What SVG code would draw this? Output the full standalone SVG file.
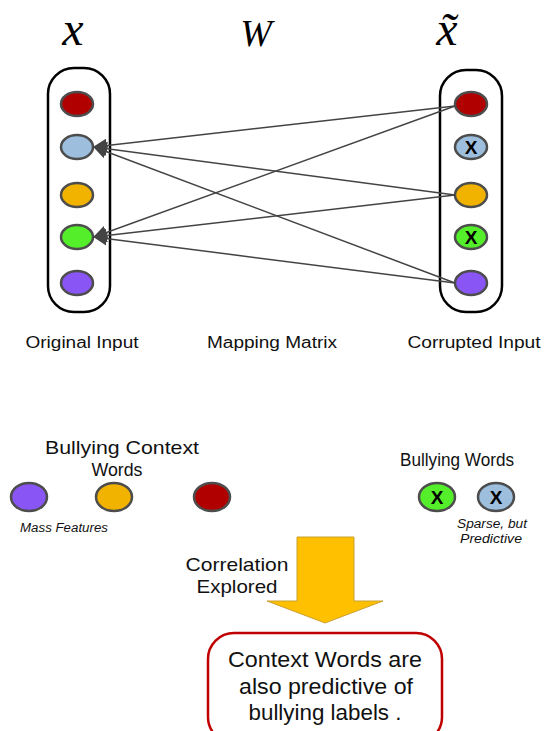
<svg xmlns="http://www.w3.org/2000/svg" width="553" height="731" viewBox="0 0 553 731">
<style>
.cap{fill:#fff;stroke:#000;stroke-width:2.5}
.n{stroke:#4d4d4d;stroke-width:2.5}
.red{fill:#b00000}.blue{fill:#9dbfdd}.org{fill:#f2b200}.grn{fill:#55ee2a}.pur{fill:#8a55f5}
.lbl{font-family:"Liberation Sans",Arial,sans-serif;font-size:16px;fill:#111;text-anchor:middle}
.big{font-family:"Liberation Sans",Arial,sans-serif;font-size:19px;fill:#111;text-anchor:middle}
.box{font-family:"Liberation Sans",Arial,sans-serif;font-size:22px;fill:#111;text-anchor:middle}
.it{font-family:"Liberation Sans",Arial,sans-serif;font-size:12.5px;font-style:italic;fill:#111;text-anchor:middle}
.math{font-family:"Liberation Serif","Times New Roman",serif;font-size:48px;font-style:italic;fill:#000;text-anchor:middle}
.x{font-family:"Liberation Sans",Arial,sans-serif;font-size:19px;font-weight:bold;fill:#000;text-anchor:middle}
.edge{stroke:#444;stroke-width:1.5;fill:none}
</style>
<defs>
<marker id="ah" viewBox="0 0 14 14" refX="13" refY="7" markerWidth="14" markerHeight="14" markerUnits="userSpaceOnUse" orient="auto">
<path d="M0,0 L14,7 L0,14 z" fill="#444"/>
</marker>
</defs>
<g id="titles">
<text class="math" x="73" y="45">x</text>
<text class="math" x="256" y="46" style="font-size:38px">W</text>
<text class="math" x="447" y="45">x̃</text>
</g>
<g id="original-input">
<rect class="cap" x="48" y="68" width="62" height="244" rx="26"/>
<ellipse class="n red" cx="77" cy="104" rx="16" ry="12"/>
<ellipse class="n blue" cx="77" cy="147" rx="16" ry="12"/>
<ellipse class="n org" cx="77" cy="195" rx="16" ry="12"/>
<ellipse class="n grn" cx="77" cy="237" rx="16" ry="12"/>
<ellipse class="n pur" cx="77" cy="283" rx="16" ry="12"/>
<text class="lbl" x="82" y="348" textLength="113" lengthAdjust="spacingAndGlyphs">Original Input</text>
</g>
<g id="corrupted-input">
<rect class="cap" x="440" y="70" width="62" height="242" rx="26"/>
<ellipse class="n red" cx="471" cy="104" rx="16" ry="12"/>
<ellipse class="n blue" cx="471" cy="147" rx="16" ry="12"/>
<text class="x" x="471" y="154">X</text>
<ellipse class="n org" cx="471" cy="195" rx="16" ry="12"/>
<ellipse class="n grn" cx="471" cy="237" rx="16" ry="12"/>
<text class="x" x="471" y="244">X</text>
<ellipse class="n pur" cx="471" cy="283" rx="16" ry="12"/>
<text class="lbl" x="474" y="348" textLength="133" lengthAdjust="spacingAndGlyphs">Corrupted Input</text>
</g>
<g id="mapping-matrix">
<text class="lbl" x="272" y="348" textLength="130" lengthAdjust="spacingAndGlyphs">Mapping Matrix</text>
</g>
<g id="connectors">
<line class="edge" x1="455" y1="106" x2="94" y2="147" marker-end="url(#ah)"/>
<line class="edge" x1="455" y1="195" x2="94" y2="147" marker-end="url(#ah)"/>
<line class="edge" x1="455" y1="283" x2="94" y2="147" marker-end="url(#ah)"/>
<line class="edge" x1="455" y1="106" x2="94" y2="237" marker-end="url(#ah)"/>
<line class="edge" x1="455" y1="195" x2="94" y2="237" marker-end="url(#ah)"/>
<line class="edge" x1="455" y1="283" x2="94" y2="237" marker-end="url(#ah)"/>
</g>
<g id="context-words">
<text class="big" x="122" y="454" textLength="154" lengthAdjust="spacingAndGlyphs">Bullying Context</text>
<text class="big" x="117" y="476" textLength="51" lengthAdjust="spacingAndGlyphs">Words</text>
<ellipse class="n pur" cx="29" cy="497" rx="18" ry="14"/>
<ellipse class="n org" cx="114" cy="497" rx="18" ry="14"/>
<ellipse class="n red" cx="212" cy="497" rx="18" ry="14"/>
<text class="it" x="64" y="532" textLength="88" lengthAdjust="spacingAndGlyphs">Mass Features</text>
</g>
<g id="bullying-words">
<text class="big" x="457" y="466" textLength="114" lengthAdjust="spacingAndGlyphs">Bullying Words</text>
<ellipse class="n grn" cx="437" cy="497" rx="18" ry="14"/>
<text class="x" x="437" y="504">X</text>
<ellipse class="n blue" cx="496" cy="497" rx="18" ry="14"/>
<text class="x" x="496" y="504">X</text>
<text class="it" x="492" y="528" textLength="70" lengthAdjust="spacingAndGlyphs">Sparse, but</text>
<text class="it" x="491" y="543" textLength="62" lengthAdjust="spacingAndGlyphs">Predictive</text>
</g>
<g id="correlation-arrow">
<path d="M297,537 L354,537 L354,601 L383,601 L325,623 L267,601 L297,601 Z" fill="#ffc000" stroke="#c9a030" stroke-width="1"/>
<text class="big" x="237" y="571" textLength="103" lengthAdjust="spacingAndGlyphs">Correlation</text>
<text class="big" x="237" y="593" textLength="81" lengthAdjust="spacingAndGlyphs">Explored</text>
</g>
<g id="conclusion">
<rect x="208" y="633" width="234" height="110" rx="26" fill="#fff" stroke="#c00000" stroke-width="2.5"/>
<text class="box" x="325" y="667" textLength="194" lengthAdjust="spacingAndGlyphs">Context Words are</text>
<text class="box" x="326" y="694" textLength="174" lengthAdjust="spacingAndGlyphs">also predictive of</text>
<text class="box" x="325" y="720" textLength="153" lengthAdjust="spacingAndGlyphs">bullying labels .</text>
</g>
</svg>
